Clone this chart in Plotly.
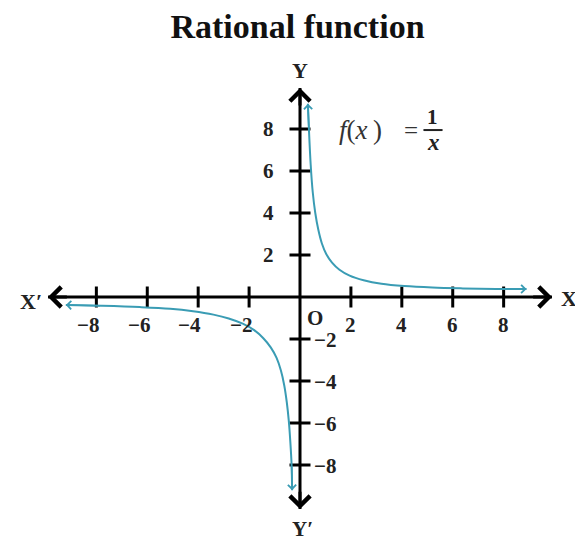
import plotly.graph_objects as go

# ---- data ----
pos_x = [0.31, 0.35, 0.42, 0.5, 0.6, 0.72, 0.86, 1.03, 1.25, 1.55, 1.95, 2.5, 3.2, 4.1, 5.2, 6.4, 7.7, 8.9]
pos_y = [9.2, 8.0, 6.3, 5.0, 4.0, 3.2, 2.55, 2.05, 1.65, 1.3, 1.02, 0.8, 0.63, 0.52, 0.45, 0.41, 0.385, 0.38]
neg_x = [-9.2, -7.8, -6.3, -5.1, -4.2, -3.4, -2.8, -2.25, -1.8, -1.45, -1.15, -0.92, -0.75, -0.62, -0.52, -0.44, -0.38, -0.33, -0.31]
neg_y = [-0.38, -0.42, -0.48, -0.56, -0.68, -0.84, -1.02, -1.27, -1.58, -1.95, -2.4, -2.9, -3.5, -4.2, -5.0, -5.9, -6.9, -8.0, -9.2]

x_ticks = [-8, -6, -4, -2, 2, 4, 6, 8]
y_ticks = [-8, -6, -4, -2, 2, 4, 6, 8]
x_axis_ends = [-9.9, 9.9]
y_axis_ends = [-10.1, 9.95]

CURVE = "#3a9cb4"
SERIF = "Liberation Serif"

fig = go.Figure()

# axes lines
fig.add_trace(go.Scatter(x=x_axis_ends, y=[0, 0], mode="lines",
                         line=dict(color="black", width=3), hoverinfo="skip"))
fig.add_trace(go.Scatter(x=[0, 0], y=y_axis_ends, mode="lines",
                         line=dict(color="black", width=3), hoverinfo="skip"))
# tick marks
fig.add_trace(go.Scatter(x=x_ticks, y=[0] * len(x_ticks), mode="markers",
                         marker=dict(symbol="line-ns", size=15, line=dict(color="black", width=3)),
                         hoverinfo="skip"))
fig.add_trace(go.Scatter(x=[0] * len(y_ticks), y=y_ticks, mode="markers",
                         marker=dict(symbol="line-ew", size=15, line=dict(color="black", width=3)),
                         hoverinfo="skip"))
# curve branches
fig.add_trace(go.Scatter(x=pos_x, y=pos_y, mode="lines", line=dict(color=CURVE, width=2, shape="spline")))
fig.add_trace(go.Scatter(x=neg_x, y=neg_y, mode="lines", line=dict(color=CURVE, width=2, shape="spline")))

ann = []

def arrow(x_tip, y_tip, x_tail, y_tail, color, width, size):
    ann.append(dict(x=x_tip, y=y_tip, ax=x_tail, ay=y_tail, xref="x", yref="y",
                    axref="x", ayref="y", text="", showarrow=True, arrowhead=4,
                    arrowsize=size, arrowwidth=width, arrowcolor=color))

# axis arrowheads
arrow(x_axis_ends[1], 0, x_axis_ends[1] - 0.8, 0, "black", 3, 1.3)
arrow(x_axis_ends[0], 0, x_axis_ends[0] + 0.8, 0, "black", 3, 1.3)
arrow(0, y_axis_ends[1], 0, y_axis_ends[1] - 0.9, "black", 3, 1.3)
arrow(0, y_axis_ends[0], 0, y_axis_ends[0] + 0.9, "black", 3, 1.3)
# curve arrowheads
arrow(pos_x[0], pos_y[0], pos_x[1], pos_y[1], CURVE, 1.6, 1)
arrow(pos_x[-1], pos_y[-1], pos_x[-2], pos_y[-2], CURVE, 1.6, 1)
arrow(neg_x[0], neg_y[0], neg_x[1], neg_y[1], CURVE, 1.6, 1)
arrow(neg_x[-1], neg_y[-1], neg_x[-2], neg_y[-2], CURVE, 1.6, 1)

lab_font = dict(family=SERIF, size=21, color="#222")

for t in x_ticks:
    txt = f"<b>{t}</b>" if t > 0 else f"<b>−{abs(t)}</b>"
    ann.append(dict(x=t, y=0, xref="x", yref="y", text=txt, showarrow=False,
                    xanchor="center" if t > 0 else "right", yanchor="middle",
                    xshift=0 if t > 0 else 5, yshift=-28, font=lab_font))
for t in y_ticks:
    txt = f"<b>{t}</b>" if t > 0 else f"<b>−{abs(t)}</b>"
    ann.append(dict(x=0, y=t, xref="x", yref="y", text=txt, showarrow=False,
                    xanchor="right" if t > 0 else "left", yanchor="middle",
                    xshift=-24 if t > 0 else 12, yshift=0 if t > 0 else -1, font=lab_font))

ann.append(dict(x=0, y=0, xref="x", yref="y", text="<b>O</b>", showarrow=False,
                xanchor="center", yanchor="middle", xshift=15, yshift=-21, font=lab_font))

ax_font = dict(family=SERIF, size=22, color="#222")
ann.append(dict(x=x_axis_ends[0], y=0, xref="x", yref="y", text="<b>X′</b>", showarrow=False,
                xanchor="right", yanchor="middle", xshift=-4, yshift=-4, font=ax_font))
ann.append(dict(x=x_axis_ends[1], y=0, xref="x", yref="y", text="<b>X</b>", showarrow=False,
                xanchor="left", yanchor="middle", xshift=7, yshift=-1, font=ax_font))
ann.append(dict(x=0, y=y_axis_ends[1], xref="x", yref="y", text="<b>Y</b>", showarrow=False,
                xanchor="center", yanchor="bottom", xshift=0, yshift=3, font=ax_font))
ann.append(dict(x=0, y=y_axis_ends[0], xref="x", yref="y", text="<b>Y′</b>", showarrow=False,
                xanchor="center", yanchor="top", xshift=2, yshift=-6, font=dict(family=SERIF, size=21, color="#222")))

# function label
fx_font = dict(family=SERIF, size=27, color="#333")
ann.append(dict(x=1.45, y=7.95, xref="x", yref="y", text="<i>f</i>(<i>x</i>\u2009)", showarrow=False,
                xanchor="left", yanchor="middle", font=fx_font))
ann.append(dict(x=4.35, y=7.95, xref="x", yref="y", text="=", showarrow=False,
                xanchor="center", yanchor="middle", font=dict(family=SERIF, size=25, color="#333")))
ann.append(dict(x=5.2, y=8.55, xref="x", yref="y", text="<b>1</b>", showarrow=False,
                xanchor="center", yanchor="middle", font=dict(family=SERIF, size=21, color="#222")))
ann.append(dict(x=5.25, y=7.35, xref="x", yref="y", text="<b><i>x</i></b>", showarrow=False,
                xanchor="center", yanchor="middle", font=dict(family=SERIF, size=23, color="#222")))

fig.add_shape(type="line", xref="x", yref="y", x0=4.85, x1=5.6, y0=7.95, y1=7.95,
              line=dict(color="#222", width=2))

# the page body has an 8px margin, so the figure is 8px smaller and margins shifted
fig.update_layout(
    width=575, height=532,
    margin=dict(l=12, r=3, t=58, b=12),
    paper_bgcolor="white", plot_bgcolor="white",
    showlegend=False,
    title=dict(text="<b>Rational function</b>", x=(297.5 - 8) / 575, xanchor="center",
               y=1 - 18 / 532, yanchor="middle", yref="container",
               font=dict(family=SERIF, size=34, color="#111")),
    xaxis=dict(range=[-11, 11], visible=False, fixedrange=True),
    yaxis=dict(range=[-11, 11], visible=False, fixedrange=True),
    annotations=ann,
)

fig.write_html("out.html")
